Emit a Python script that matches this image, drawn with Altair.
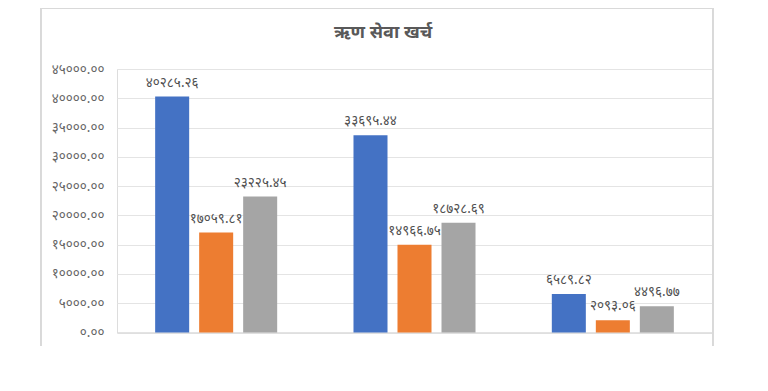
import altair as alt
import pandas as pd

# Data
categories = ["आन्तरिक ऋण", "वैदेशिक ऋण", "अन्य"]
series = ["आ.व. २०७५/७६", "आ.व. २०७६/७७", "आ.व. २०७७/७८"]
values_s1 = [40285.26, 33695.44, 6589.82]
values_s2 = [17059.81, 14966.75, 2093.06]
values_s3 = [23225.45, 18728.69, 4496.77]
y_ticks = [0, 5000, 10000, 15000, 20000, 25000, 30000, 35000, 40000, 45000]
colors = ["#4472C4", "#ED7D31", "#A5A5A5"]
title_text = "ऋण सेवा खर्च"

rows = []
for s, vals in zip(series, [values_s1, values_s2, values_s3]):
    for c, v in zip(categories, vals):
        rows.append({"category": c, "series": s, "value": v})
df = pd.DataFrame(rows)

def deva(expr):
    out = f"format({expr}, '.2f')"
    for d, dv in zip("0123456789", "०१२३४५६७८९"):
        out = f"replace({out}, regexp('{d}', 'g'), '{dv}')"
    return out

FONT = "Noto Sans Devanagari, Noto Sans, sans-serif"
W, H = 595, 263.5

x_enc = alt.X("category:N", sort=categories,
              scale=alt.Scale(paddingInner=0, paddingOuter=0),
              axis=alt.Axis(title=None, labels=False, ticks=False,
                            domainColor="#d9d9d9", domainWidth=1, grid=False))
xo_enc = alt.XOffset("series:N", sort=series,
                     scale=alt.Scale(paddingInner=0.227, paddingOuter=0.867))
y_enc = alt.Y("value:Q", scale=alt.Scale(domain=[0, 45000], nice=False),
              axis=alt.Axis(title=None, values=y_ticks, ticks=False, domain=False,
                            labelExpr=deva("datum.value"), labelPadding=13,
                            labelOverlap=False,
                            labelFontSize=13.5, labelColor="#666666", labelFont=FONT,
                            gridColor="#e4e4e4", gridWidth=1))

bars = alt.Chart(df).mark_bar().encode(
    x=x_enc, xOffset=xo_enc, y=y_enc,
    color=alt.Color("series:N", sort=series,
                    scale=alt.Scale(domain=series, range=colors), legend=None),
)

labels = alt.Chart(df).transform_calculate(
    lbl=deva("datum.value")
).mark_text(dy=-14, fontSize=13.5, color="#505050", font=FONT, baseline="middle").encode(
    x=x_enc, xOffset=xo_enc, y=y_enc, text="lbl:N",
)

border_color = "#d9d9d9"
left_line = alt.Chart(df).mark_rule(color=border_color).encode(
    x=alt.value(-76), y=alt.value(-61), y2=alt.value(277))
right_line = alt.Chart(df).mark_rule(color=border_color).encode(
    x=alt.value(596), y=alt.value(-61), y2=alt.value(277))
top_line = alt.Chart(df).mark_rule(color=border_color).encode(
    x=alt.value(-76), x2=alt.value(596), y=alt.value(-60.5))

title = alt.Chart(pd.DataFrame({"t": [title_text]})).mark_text(
    fontSize=18, fontWeight="bold", color="#595959", font=FONT, baseline="middle"
).encode(x=alt.value(266), y=alt.value(-36), text="t:N")

chart = alt.layer(bars, labels, left_line, right_line, top_line, title).properties(
    width=W, height=H,
    autosize=alt.AutoSizeParams(type="none"),
    padding={"left": 109, "top": 61, "right": 48, "bottom": 50},
).configure_view(stroke=None).configure(background="white")

chart.save("out.html", embed_options={"renderer": "svg", "actions": False})
